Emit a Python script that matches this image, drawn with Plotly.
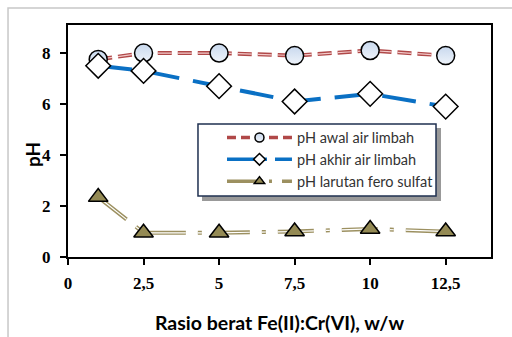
import plotly.graph_objects as go

ratio = [1, 2.5, 5, 7.5, 10, 12.5]
ph_awal = [7.75, 8.0, 8.0, 7.9, 8.1, 7.9]
ph_akhir = [7.5, 7.3, 6.7, 6.1, 6.4, 5.9]
ph_fero = [2.35, 0.95, 0.95, 1.0, 1.1, 1.0]

x_tickvals = [0, 2.5, 5, 7.5, 10, 12.5]
x_ticktext = ["0", "2,5", "5", "7,5", "10", "12,5"]
y_tickvals = [0, 2, 4, 6, 8]
y_ticktext = ["0", "2", "4", "6", "8"]

names = ["pH awal air limbah", "pH akhir air limbah", "pH larutan fero sulfat"]

RED, RED_IN = "#b04848", "#f2c9c9"
BLUE = "#0a70c4"
OLIVE, OLIVE_M = "#9c9060", "#948a54"
CIRC = dict(color="#c9d9ee", gradient=dict(type="vertical", color="#eef3fa"))
D_RED = "14px,6px"
D_BLUE = "34px,14px"
D_OLIVE = "36px,12px,4px,12px"

fig = go.Figure()

# pH awal
fig.add_trace(go.Scatter(x=ratio, y=ph_awal, mode="lines", showlegend=False,
    line=dict(color=RED, width=4, dash=D_RED)))
fig.add_trace(go.Scatter(x=ratio, y=ph_awal, mode="lines", showlegend=False, hoverinfo="skip",
    line=dict(color=RED_IN, width=1.2, dash=D_RED)))
fig.add_trace(go.Scatter(x=ratio, y=ph_awal, mode="markers", showlegend=False,
    marker=dict(symbol="circle", size=18, **CIRC, line=dict(color="black", width=1.5))))

# pH akhir
fig.add_trace(go.Scatter(x=ratio, y=ph_akhir, mode="lines+markers", showlegend=False,
    line=dict(color=BLUE, width=4, dash=D_BLUE),
    marker=dict(symbol="diamond", size=19, color="white", line=dict(color="black", width=1.5))))

# pH fero
fig.add_trace(go.Scatter(x=ratio, y=ph_fero, mode="lines", showlegend=False,
    line=dict(color=OLIVE, width=4, dash=D_OLIVE)))
fig.add_trace(go.Scatter(x=ratio, y=ph_fero, mode="lines", showlegend=False, hoverinfo="skip",
    line=dict(color="white", width=1.2, dash=D_OLIVE)))
fig.add_trace(go.Scatter(x=ratio, y=ph_fero, mode="markers", showlegend=False,
    marker=dict(symbol="triangle-up", size=17, color=OLIVE_M, line=dict(color="black", width=1.5))))

# legend-only entries (small markers as in the original)
fig.add_trace(go.Scatter(x=[None], y=[None], mode="lines+markers", name=names[0], legendgroup="a",
    line=dict(color=RED, width=3.5, dash="9px,5px"),
    marker=dict(symbol="circle", size=9, **CIRC, line=dict(color="black", width=1.5))))
fig.add_trace(go.Scatter(x=[None], y=[None], mode="lines+markers", name=names[1], legendgroup="b",
    line=dict(color=BLUE, width=3.5, dash="40px,8px"),
    marker=dict(symbol="diamond", size=9, color="white", line=dict(color="black", width=1.5))))
fig.add_trace(go.Scatter(x=[None], y=[None], mode="lines+markers", name=names[2], legendgroup="c",
    line=dict(color=OLIVE, width=3.5, dash="36px,6px,3px,10px"),
    marker=dict(symbol="triangle-up", size=9, color=OLIVE_M, line=dict(color="black", width=1.5))))

tickfont = dict(family="Liberation Serif", size=17, color="black", weight="bold")

fig.update_layout(
    width=512, height=337,
    margin=dict(l=68, r=21, t=25, b=80),
    paper_bgcolor="white", plot_bgcolor="white",
    showlegend=True,
    legend=dict(x=0.364, y=0.584, xanchor="left", yanchor="top",
                bgcolor="rgba(0,0,0,0)", borderwidth=0,
                font=dict(family="Lato", size=14.5, color="#333333"),
                itemwidth=65, tracegroupgap=0),
    xaxis=dict(range=[0, 14], tickvals=x_tickvals, ticktext=x_ticktext, automargin=False,
               showline=True, linecolor="black", linewidth=2, mirror=True,
               ticks="outside", ticklen=6, tickwidth=1.5, tickcolor="black",
               ticklabelstandoff=4,
               showgrid=False, zeroline=False, tickfont=tickfont,
               title=dict(text="Rasio berat Fe(II):Cr(VI), w/w", standoff=24,
                          font=dict(family="Lato", size=19.5, color="black", weight="bold"))),
    yaxis=dict(range=[0, 9.1], tickvals=y_tickvals, ticktext=y_ticktext, automargin=False,
               showline=True, linecolor="black", linewidth=2, mirror=True,
               ticks="outside", ticklen=6, tickwidth=1.5, tickcolor="black",
               ticklabelstandoff=6,
               showgrid=False, zeroline=False, tickfont=tickfont),
    annotations=[
        dict(text="pH", xref="paper", yref="paper", x=-0.0827, y=0.44,
             xanchor="center", yanchor="middle", textangle=-90, showarrow=False,
             font=dict(family="Lato", size=19, color="black", weight="bold")),
    ],
    shapes=[
        dict(type="rect", xref="paper", yref="paper",
             x0=-0.1418, x1=1.2, y0=-0.5, y1=1.073,
             line=dict(color="#c8c8c8", width=1.5), fillcolor="rgba(0,0,0,0)", layer="below"),
        dict(type="rect", xref="paper", yref="paper",
             x0=0.3168, x1=0.8818, y0=0.2414, y1=0.556,
             line=dict(width=0), fillcolor="rgba(0,0,0,0.4)", layer="above"),
        dict(type="rect", xref="paper", yref="paper",
             x0=0.3073, x1=0.870, y0=0.263, y1=0.573,
             line=dict(color="#1f3050", width=1.5), fillcolor="white", layer="above"),
    ],
)

fig.write_html("out.html")
